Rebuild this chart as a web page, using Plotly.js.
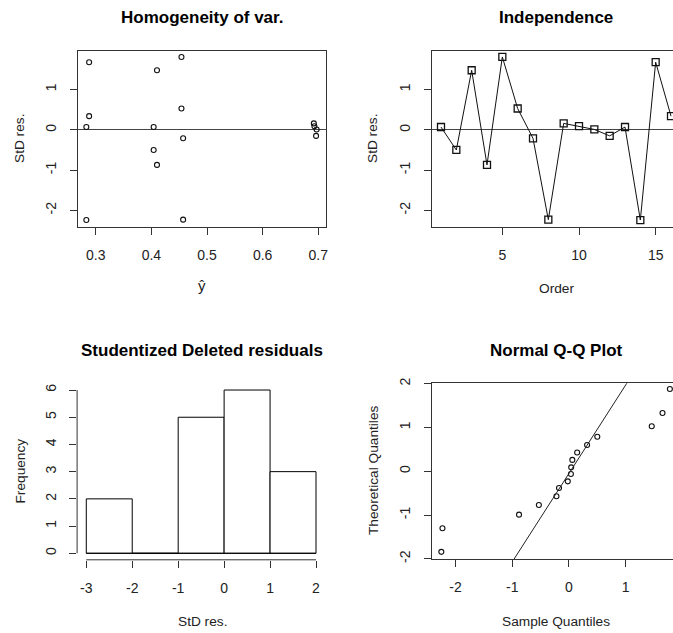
<!DOCTYPE html>
<html>
<head>
<meta charset="utf-8">
<script src="https://cdn.plot.ly/plotly-3.0.1.min.js"></script>
<style>html,body{margin:0;padding:0;background:#fff;}#chart{width:673px;height:633px;}</style>
</head>
<body>
<div id="chart"></div>
<script>
// ---- data ----
var fitted = [0.404, 0.404, 0.410, 0.410, 0.454, 0.454, 0.457, 0.457, 0.692, 0.693, 0.697, 0.696, 0.283, 0.283, 0.288, 0.288];
var stdRes = [0.07, -0.50, 1.48, -0.87, 1.81, 0.53, -0.21, -2.23, 0.16, 0.09, 0.01, -0.15, 0.07, -2.24, 1.68, 0.34];
var order = [1, 2, 3, 4, 5, 6, 7, 8, 9, 10, 11, 12, 13, 14, 15, 16];
var histEdges = [-3, -2, -1, 0, 1, 2];
var histCounts = [2, 0, 5, 6, 3];
var qqSample = [-2.25, -2.23, -0.88, -0.53, -0.22, -0.175, -0.02, 0.035, 0.04, 0.06, 0.145, 0.32, 0.50, 1.46, 1.65, 1.78];
var qqTheoretical = [-1.84, -1.30, -0.99, -0.77, -0.57, -0.38, -0.23, -0.06, 0.09, 0.26, 0.43, 0.60, 0.79, 1.03, 1.33, 1.88];
var qqLineIntercept = -0.05;
var qqLineSlope = 2.02;

var tickFitted = [0.3, 0.4, 0.5, 0.6, 0.7];
var tickFittedText = ['0.3', '0.4', '0.5', '0.6', '0.7'];
var tickRes = [-2, -1, 0, 1];
var tickResText = ['-2', '-1', '0', '1'];
var tickOrder = [5, 10, 15];
var tickOrderText = ['5', '10', '15'];
var tickHistX = [-3, -2, -1, 0, 1, 2];
var tickHistXText = ['-3', '-2', '-1', '0', '1', '2'];
var tickHistY = [0, 1, 2, 3, 4, 5, 6];
var tickHistYText = ['0', '1', '2', '3', '4', '5', '6'];
var tickQQX = [-2, -1, 0, 1];
var tickQQXText = ['-2', '-1', '0', '1'];
var tickQQY = [-2, -1, 0, 1, 2];
var tickQQYText = ['-2', '-1', '0', '1', '2'];

// ---- layout helpers ----
var W = 673, H = 633;
function fx(p) { return p / W; }
function fy(p) { return 1 - p / H; }
var FONT = 'Liberation Sans, Arial, sans-serif';
var lineCol = '#333';
var tickFont = {family: FONT, size: 14, color: '#222'};

function ax(extra) {
  var base = {
    showgrid: false, zeroline: false, showline: true, linecolor: lineCol, linewidth: 1,
    ticks: 'outside', ticklen: 7, tickwidth: 1, tickcolor: lineCol,
    tickfont: tickFont, tickmode: 'array', fixedrange: true, ticklabelstandoff: 8
  };
  for (var k in extra) base[k] = extra[k];
  return base;
}

// histogram bar geometry from edges
var histMid = [], histWidth = [];
for (var i = 0; i < histCounts.length; i++) {
  histMid.push((histEdges[i] + histEdges[i + 1]) / 2);
  histWidth.push(histEdges[i + 1] - histEdges[i]);
}

var qqXRange = [-2.418, 1.835];
var qqLineX = [qqXRange[0], qqXRange[1]];
var qqLineY = qqLineX.map(function (v) { return qqLineIntercept + qqLineSlope * v; });

var traces = [
  {x: fitted, y: stdRes, xaxis: 'x', yaxis: 'y', type: 'scatter', mode: 'markers',
   marker: {symbol: 'circle-open', size: 5, color: '#111', line: {width: 1.1, color: '#111'}}},
  {x: order, y: stdRes, xaxis: 'x2', yaxis: 'y2', type: 'scatter', mode: 'lines+markers',
   line: {color: '#111', width: 1},
   marker: {symbol: 'square-open', size: 7, color: '#111', line: {width: 1.3, color: '#111'}}},
  {x: histMid, y: histCounts, width: histWidth, xaxis: 'x3', yaxis: 'y3', type: 'bar',
   marker: {color: '#fff', line: {color: '#000', width: 1}}},
  {x: [histEdges[0], histEdges[histEdges.length - 1]], y: [0, 0], xaxis: 'x3', yaxis: 'y3',
   type: 'scatter', mode: 'lines', line: {color: '#000', width: 1}},
  {x: qqSample, y: qqTheoretical, xaxis: 'x4', yaxis: 'y4', type: 'scatter', mode: 'markers',
   marker: {symbol: 'circle-open', size: 5, color: '#111', line: {width: 1.1, color: '#111'}}},
  {x: qqLineX, y: qqLineY, xaxis: 'x4', yaxis: 'y4', type: 'scatter', mode: 'lines',
   line: {color: '#222', width: 1}}
];

var topDom = [fy(227.3), fy(50.7)];
var botDom3 = [fy(559.8), fy(383.5)];
var botDom4 = [fy(559.3), fy(383.3)];

var layout = {
  width: W, height: H, margin: {l: 0, r: 0, t: 0, b: 0},
  paper_bgcolor: '#fff', plot_bgcolor: '#fff', showlegend: false, bargap: 0,
  font: {family: FONT, color: '#000'},
  xaxis: ax({domain: [fx(78), fx(326.3)], range: [0.268, 0.7144], anchor: 'y', mirror: true,
             tickvals: tickFitted, ticktext: tickFittedText}),
  yaxis: ax({domain: topDom, range: [-2.42, 1.965], anchor: 'x', mirror: true,
             tickvals: tickRes, ticktext: tickResText, tickangle: -90,
             zeroline: true, zerolinecolor: '#444', zerolinewidth: 1}),
  xaxis2: ax({domain: [fx(431.8), 1], range: [0.4, 16.13], anchor: 'y2', mirror: true,
              tickvals: tickOrder, ticktext: tickOrderText}),
  yaxis2: ax({domain: topDom, range: [-2.42, 1.965], anchor: 'x2', mirror: false,
              tickvals: tickRes, ticktext: tickResText, tickangle: -90,
              zeroline: true, zerolinecolor: '#444', zerolinewidth: 1}),
  xaxis3: ax({domain: [fx(77.1), fx(325.2)], range: [-3.2, 2.2], anchor: 'y3', showline: false,
              tickvals: tickHistX, ticktext: tickHistXText}),
  yaxis3: ax({domain: botDom3, range: [-0.24, 6.24], anchor: 'x3', showline: false,
              tickvals: tickHistY, ticktext: tickHistYText, tickangle: -90}),
  xaxis4: ax({domain: [fx(431.8), 1], range: qqXRange, anchor: 'y4', mirror: true,
              tickvals: tickQQX, ticktext: tickQQXText}),
  yaxis4: ax({domain: botDom4, range: [-2.01, 2.01], anchor: 'x4', mirror: false,
              tickvals: tickQQY, ticktext: tickQQYText, tickangle: -90}),
  shapes: [
    {type: 'line', xref: 'x3', yref: 'y3 domain', x0: tickHistX[0], x1: tickHistX[tickHistX.length - 1],
     y0: 0, y1: 0, line: {color: lineCol, width: 1}},
    {type: 'line', xref: 'x3 domain', yref: 'y3', x0: 0, x1: 0,
     y0: tickHistY[0], y1: tickHistY[tickHistY.length - 1], line: {color: lineCol, width: 1}}
  ],
  annotations: []
};

function ann(text, x, y, opts) {
  var a = {text: text, xref: 'paper', yref: 'paper', x: fx(x), y: fy(y), xanchor: 'center', yanchor: 'middle',
           showarrow: false, font: {family: FONT, size: 13.7, color: '#222'}};
  for (var k in opts) a[k] = opts[k];
  layout.annotations.push(a);
}
var titleFont = {family: FONT, size: 17, color: '#000'};
ann('<b>Homogeneity of var.</b>', 202, 17.5, {font: titleFont});
ann('<b>Independence</b>', 556, 17.5, {font: titleFont});
ann('<b>Studentized Deleted residuals</b>', 202, 350.5, {font: titleFont});
ann('<b>Normal Q-Q Plot</b>', 556.5, 350.5, {font: titleFont});
ann('ŷ', 202, 285, {font: {family: FONT, size: 15, color: '#222'}});
ann('Order', 556, 288, {});
ann('StD res.', 202, 621, {});
ann('Sample Quantiles', 556, 621, {});
ann('StD res.', 20, 139, {textangle: -90});
ann('StD res.', 373, 139, {textangle: -90});
ann('Frequency', 19.5, 471, {textangle: -90});
ann('Theoretical Quantiles', 373, 471, {textangle: -90});

Plotly.newPlot('chart', traces, layout, {staticPlot: true, displayModeBar: false});
</script>
</body>
</html>
